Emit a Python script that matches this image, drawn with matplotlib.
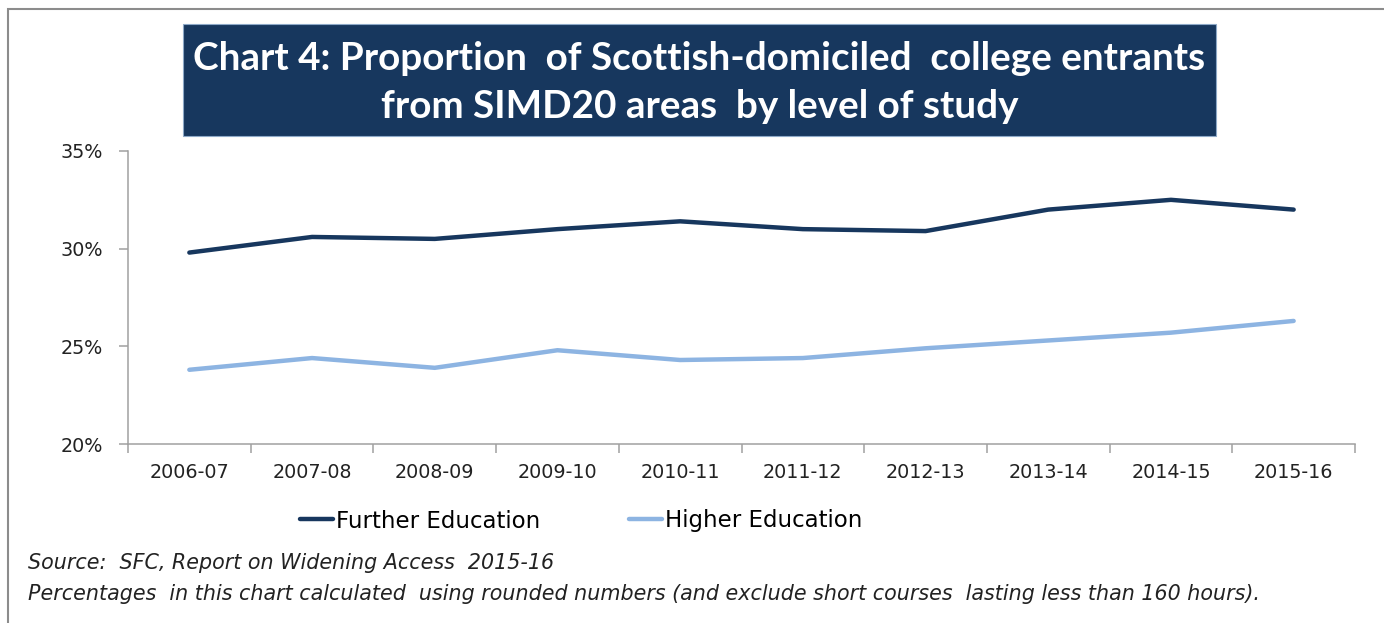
import matplotlib.pyplot as plt
from matplotlib.patches import Rectangle
from matplotlib.ticker import FuncFormatter, FixedLocator

# data (percent)
years = ['2006-07', '2007-08', '2008-09', '2009-10', '2010-11',
         '2011-12', '2012-13', '2013-14', '2014-15', '2015-16']
further_ed = [29.8, 30.6, 30.5, 31.0, 31.4, 31.0, 30.9, 32.0, 32.5, 32.0]
higher_ed = [23.8, 24.4, 23.9, 24.8, 24.3, 24.4, 24.9, 25.3, 25.7, 26.3]

navy = '#17375E'
light = '#8DB4E2'
grey = '#A0A0A0'
body_font = ['DejaVu Sans']

plt.rcParams['font.family'] = body_font

fig = plt.figure(figsize=(13.84, 6.23), dpi=100)
W, H = 1384, 623

# outer frame (only top and left visible in the original)
fig.patches.append(Rectangle((8 / W, -0.1), 1.2, (623 - 9) / H + 0.1,
                             transform=fig.transFigure, fill=False,
                             edgecolor='#8C8C8C', linewidth=1.5))

# title box
fig.patches.append(Rectangle((183 / W, (623 - 136) / H), (1216 - 183) / W, 112 / H,
                             transform=fig.transFigure, facecolor='#17375E',
                             edgecolor='#8EA9C8', linewidth=0.8))
for txt, yy in [('Chart 4: Proportion  of Scottish-domiciled  college entrants', 58),
                ('from SIMD20 areas  by level of study', 107)]:
    fig.text(699.5 / W, 1 - yy / H, txt, ha='center', va='center', color='white',
             fontsize=27.8, fontweight='bold', family=['Lato', 'DejaVu Sans'])

ax = fig.add_axes([128 / W, (623 - 444) / H, (1355 - 128) / W, (444 - 151) / H])
x = range(len(years))
ax.plot(x, further_ed, color=navy, linewidth=3.2, solid_capstyle='round', label='Further Education')
ax.plot(x, higher_ed, color=light, linewidth=3.2, solid_capstyle='round', label='Higher Education')

ax.set_xlim(-0.5, len(years) - 0.5)
ax.set_ylim(20, 35)
ax.set_yticks([20, 25, 30, 35])
ax.yaxis.set_major_formatter(FuncFormatter(lambda v, p: f'{v:.0f}%'))
ax.set_xticks(list(x))
ax.set_xticklabels(years)
ax.xaxis.set_minor_locator(FixedLocator([i - 0.5 for i in range(len(years) + 1)]))

for s in ['top', 'right']:
    ax.spines[s].set_visible(False)
for s in ['left', 'bottom']:
    ax.spines[s].set_color(grey)
    ax.spines[s].set_linewidth(1.1)
ax.tick_params(axis='y', length=6.5, width=1.1, color=grey, labelsize=13.8, pad=11.5, labelcolor='#222222')
ax.tick_params(axis='x', which='major', length=0, labelsize=13.8, pad=14, labelcolor='#222222')
ax.tick_params(axis='x', which='minor', length=6.5, width=1.1, color=grey)

# legend
ax.legend(loc='center left', bbox_to_anchor=(300 / W, 1 - 521 / H), bbox_transform=fig.transFigure,
          ncol=2, frameon=False, fontsize=16.5, borderaxespad=0, borderpad=0,
          handlelength=1.45, handletextpad=0.13, columnspacing=3.85)

fig.text(28 / W, 1 - 563 / H, 'Source:  SFC, Report on Widening Access  2015-16',
         ha='left', va='center', fontsize=14.9, style='italic', color='#222222')
fig.text(28 / W, 1 - 594 / H,
         'Percentages  in this chart calculated  using rounded numbers (and exclude short courses  lasting less than 160 hours).',
         ha='left', va='center', fontsize=14.9, style='italic', color='#222222')

fig.savefig('out.png', dpi=100)
